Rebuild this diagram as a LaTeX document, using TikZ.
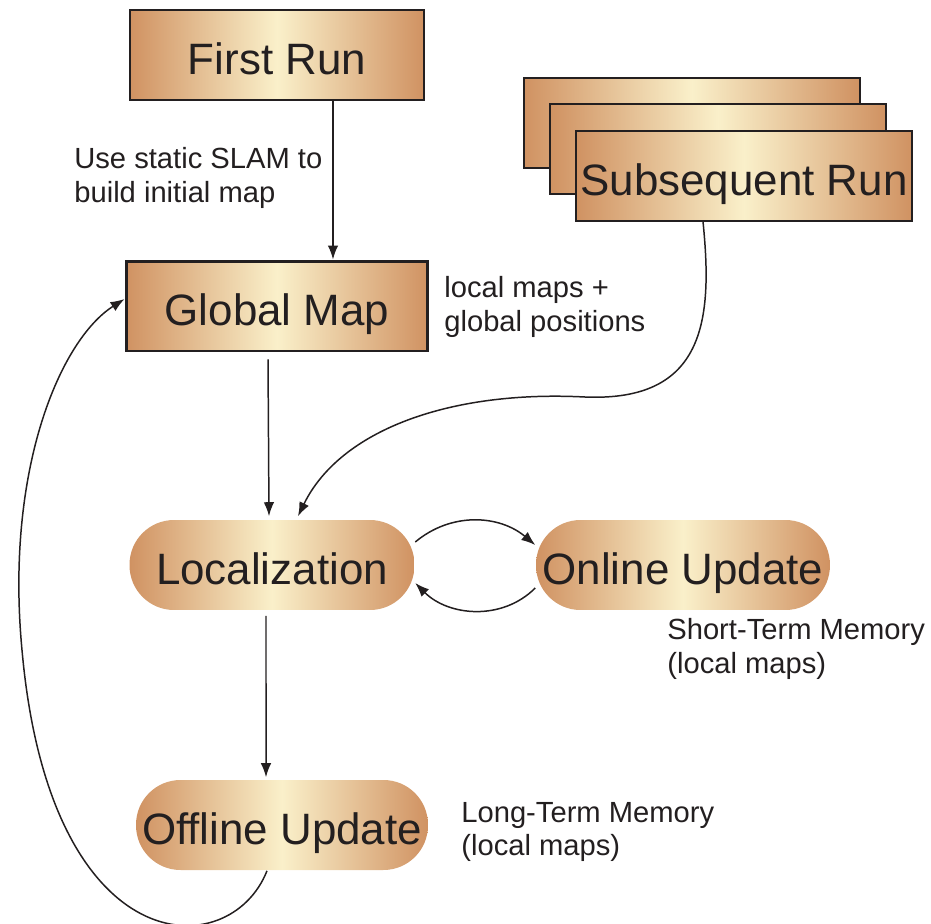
\documentclass[tikz,border=0pt]{standalone}
\usepackage{fontspec}
\setmainfont{Liberation Sans}
\usetikzlibrary{arrows.meta, positioning}
\definecolor{copper}{RGB}{208,146,98}
\definecolor{cream}{RGB}{250,240,202}
\definecolor{ink}{RGB}{35,31,32}

\begin{document}
\begin{tikzpicture}[
        x=0.02cm, y=-0.02cm,
        >={Latex[length=2.8mm,width=2.1mm]},
        runbox/.style={rectangle, draw=ink, line width=0.9pt, left color=copper, right color=copper, middle color=cream, minimum width=5.88cm, minimum height=1.8cm, inner sep=0pt, text height=22.5pt, text depth=0pt, text=ink, font=\fontsize{25}{29}\selectfont},
        stagebox/.style={runbox, draw=none, rounded corners=0.89cm},
        note/.style={anchor=west, align=left, inner sep=0pt, text=ink, font=\fontsize{16.6}{19}\selectfont},
        link/.style={->, draw=ink, line width=0.85pt}
    ]
        \useasboundingbox (0,0) rectangle (931,924);

        \node[runbox] (first) at (277,55) {First Run};
        \node[runbox, minimum width=6.72cm] (sub1) at (692,123) {};
        \node[runbox, minimum width=6.72cm] (sub2) at (718,149) {};
        \node[runbox, minimum width=6.72cm] (sub3) at (744,176) {Subsequent Run};
        \node[runbox, minimum width=6.04cm, line width=1.7pt] (global) at (277,306) {Global Map};
        \node[stagebox, minimum width=5.7cm] (local) at (272,565) {Localization};
        \node[stagebox] (online) at (683,565) {Online Update};
        \node[stagebox, minimum width=5.84cm] (offline) at (282,825) {Offline Update};

        \node[note] (slam) at (74,178) {Use static SLAM to\\build initial map};
        \node[note] (gpos) at (444,307) {local maps +\\global positions};
        \node[note] (stm) at (667,649) {Short-Term Memory\\(local maps)};
        \node[note] (ltm) at (461,832) {Long-Term Memory\\(local maps)};

        \coordinate (bend) at (585,397);
        \coordinate (loopleft) at (22,650);

        \draw[link] ([xshift=1.12cm]first.south) -- ([xshift=1.12cm]global.north);
        \draw[link] ([xshift=-0.18cm,yshift=-0.14cm]global.south) -- ([xshift=-0.06cm,yshift=0.06cm]local.north);
        \draw[link] ([xshift=-0.12cm,yshift=-0.1cm]local.south) -- ([xshift=-0.32cm,yshift=0.04cm]offline.north);
        \draw[link] ([xshift=-0.82cm]sub3.south) .. controls (713,320) and (705,402) .. (bend)
            .. controls (450,390) and (340,430) .. ([xshift=0.52cm,yshift=0.06cm]local.north);
        \draw[link] ([yshift=0.46cm]local.east) to[out=40, in=140] ([yshift=0.4cm]online.west);
        \draw[link] ([yshift=-0.46cm]online.west) to[out=-135, in=-45] ([yshift=-0.36cm]local.east);
        \draw[link] ([xshift=-0.3cm]offline.south) .. controls (230,965) and (50,965) .. (loopleft)
            .. controls (5,470) and (60,340) .. ([yshift=0.14cm]global.west);
    \end{tikzpicture}
\end{document}
